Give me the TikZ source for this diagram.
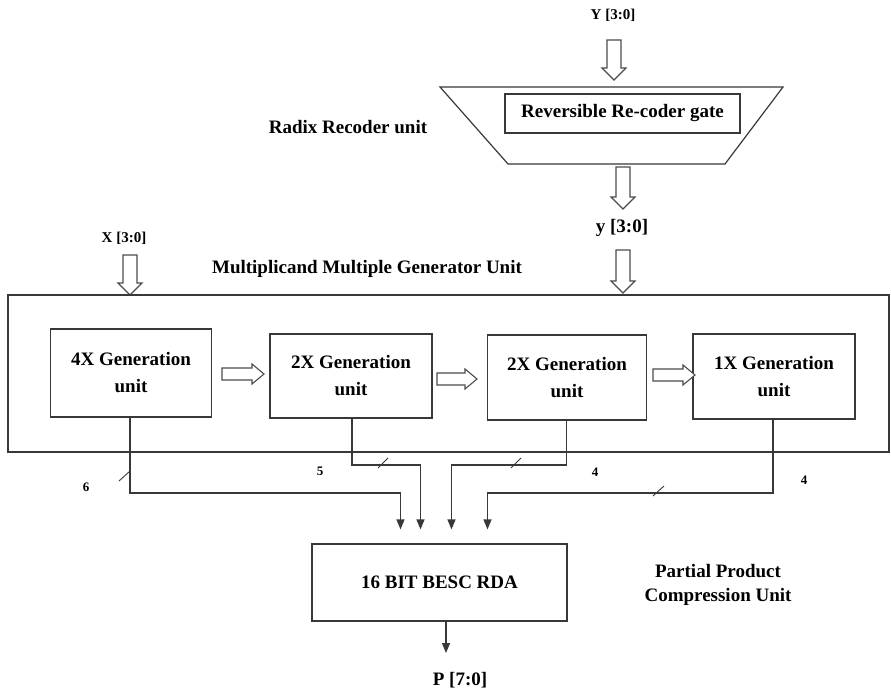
\documentclass[tikz,border=0pt]{standalone}
\usepackage{fontspec}
\setmainfont{Liberation Serif}
\usetikzlibrary{arrows.meta}
\tikzset{
  ln/.style={draw=black!78, line width=1.2pt},
  hol/.style={draw=black!70, line width=1.1pt, fill=white, line join=miter},
  blk/.style={ln, rectangle, inner sep=0pt, align=center, font=\fontsize{19}{27}\selectfont\bfseries},
  lbl/.style={inner sep=0pt, font=\fontsize{19}{24}\selectfont\bfseries, align=center},
  sml/.style={inner sep=0pt, font=\fontsize{15}{18}\selectfont\bfseries},
  num/.style={inner sep=0pt, font=\fontsize{13}{15}\selectfont\bfseries},
  arr/.style={ln, -{Triangle[length=10pt,width=8pt]}},
}
\newcommand\hdown[3]{% x, top, tip
  \draw[hol] ({#1-7},#2) -- ({#1-7},{#3-12}) -- ({#1-12},{#3-12}) -- (#1,#3) -- ({#1+12},{#3-12}) -- ({#1+7},{#3-12}) -- ({#1+7},#2) -- cycle;}
\newcommand\hright[3]{% y, start, tip
  \draw[hol] (#2,{#1-6}) -- ({#3-12},{#1-6}) -- ({#3-12},{#1-10}) -- (#3,#1) -- ({#3-12},{#1+10}) -- ({#3-12},{#1+6}) -- (#2,{#1+6}) -- cycle;}
\begin{document}
\begin{tikzpicture}[x=1pt,y=-1pt]
\useasboundingbox (0,0) rectangle (891,693);

% Radix recoder
\node[sml] (Yin) at (613,15) {Y [3:0]};
\hdown{614}{40}{80}
\draw[ln] (440,87) coordinate (t1) -- (783,87) coordinate (t2) -- (725,164) coordinate (t3) -- (508,164) coordinate (t4) -- cycle;
\node[blk, minimum width=235pt, minimum height=39pt] (rc) at (622.5,113.5) {Reversible Re-coder gate};
\node[lbl] (radix) at (348,127) {Radix Recoder unit};
\hdown{623}{167}{209}
\node[lbl] (yout) at (622,228) {y [3:0]};
\hdown{623}{250}{293}

% Multiplicand multiple generator
\node[sml] (Xin) at (124,238) {X [3:0]};
\hdown{130}{255}{295}
\node[lbl] (mmgl) at (367,269) {Multiplicand Multiple Generator Unit};
\node[ln, rectangle, minimum width=881pt, minimum height=157pt, inner sep=0pt] (mmg) at (448.5,373.5) {};

\node[blk, minimum width=161pt, minimum height=88pt] (g4) at (131,373) {4X Generation\\unit};
\node[blk, minimum width=162pt, minimum height=84pt] (g2a) at (351,376) {2X Generation\\unit};
\node[blk, minimum width=159pt, minimum height=85pt] (g2b) at (567,377.5) {2X Generation\\unit};
\node[blk, minimum width=162pt, minimum height=85pt] (g1) at (774,376.5) {1X Generation\\unit};

\hright{374}{222}{264}
\hright{379}{437}{477}
\hright{375}{653}{695}

% compression unit
\node[blk, minimum width=255pt, minimum height=77pt] (besc) at (439.5,582.5) {16 BIT BESC RDA};
\node[lbl] (ppc) at (718,585) {Partial Product\\Compression Unit};

\coordinate (c4) at (130,493);
\coordinate (c2a) at (352,465);
\coordinate (c2b) at (566.5,465);
\coordinate (c1) at (773,493);
\coordinate (i1) at (400.5,493);
\coordinate (i2) at (420.5,465);
\coordinate (i3) at (451.5,465);
\coordinate (i4) at (487.5,493);

\draw[arr, shorten >=14pt] (g4.south -| c4) -- (c4) -- (i1) -- (i1 |- besc.north);
\draw[arr, shorten >=14pt] (g2a.south -| c2a) -- (c2a) -- (i2) -- (i2 |- besc.north);
\draw[arr, shorten >=14pt] (g2b.south -| c2b) -- (c2b) -- (i3) -- (i3 |- besc.north);
\draw[arr, shorten >=14pt] (g1.south -| c1) -- (c1) -- (i4) -- (i4 |- besc.north);

% bus width ticks
\draw[ln, line width=0.9pt] (119,481) -- (130,471);
\draw[ln, line width=0.9pt] (378,468) -- (388,458);
\draw[ln, line width=0.9pt] (511,468) -- (521,458);
\draw[ln, line width=0.9pt] (653,496) -- (664,486);

\node[num] (n6) at (86,487) {6};
\node[num] (n5) at (320,471) {5};
\node[num] (n4a) at (595,472) {4};
\node[num] (n4b) at (804,480) {4};

\coordinate (pout) at (446,653);
\draw[arr] (besc.south -| pout) -- (pout);
\node[lbl] (P) at (460,680) {P [7:0]};
\end{tikzpicture}
\end{document}
